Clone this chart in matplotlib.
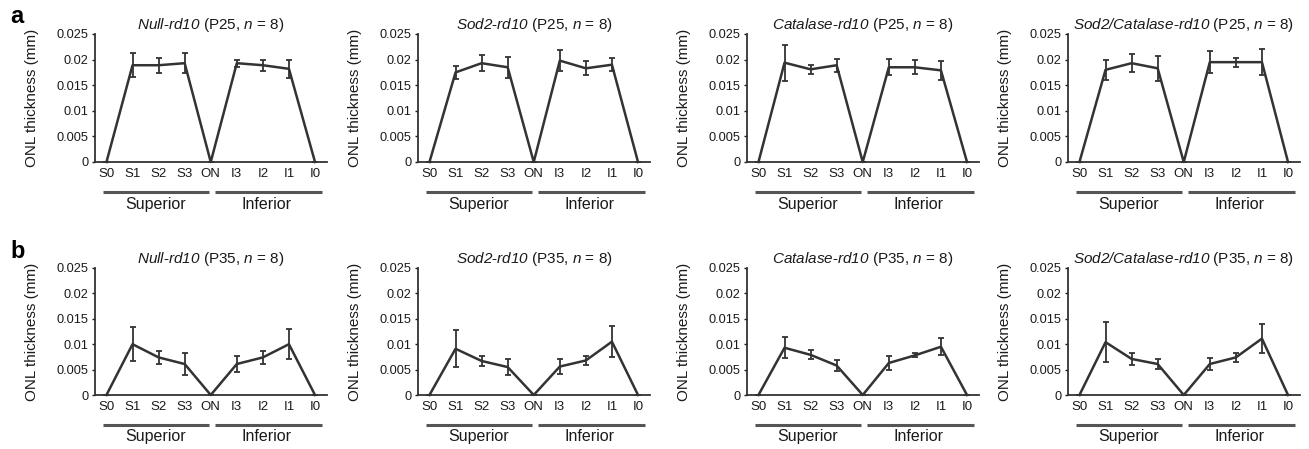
import numpy as np
import matplotlib.pyplot as plt
from matplotlib.transforms import blended_transform_factory

plt.rcParams['font.family'] = ['Liberation Sans', 'DejaVu Sans']
# everything inside $...$ is italic (gene names and n), the rest stays upright
plt.rcParams['mathtext.fontset'] = 'custom'
plt.rcParams['mathtext.rm'] = 'Liberation Sans:italic'
plt.rcParams['mathtext.it'] = 'Liberation Sans:italic'

# regions along the retina
positions = ['S0', 'S1', 'S2', 'S3', 'ON', 'I3', 'I2', 'I1', 'I0']
groups = ['Null-rd10', 'Sod2-rd10', 'Catalase-rd10', 'Sod2/Catalase-rd10']

# ONL thickness in mm, P25 (row a)
p25_mean = {
    'Null-rd10':          [0, 0.0189, 0.0189, 0.0193, 0, 0.0193, 0.0189, 0.0182, 0],
    'Sod2-rd10':          [0, 0.0175, 0.0193, 0.0185, 0, 0.0198, 0.0183, 0.0190, 0],
    'Catalase-rd10':      [0, 0.0194, 0.0181, 0.0189, 0, 0.0185, 0.0185, 0.0179, 0],
    'Sod2/Catalase-rd10': [0, 0.0180, 0.0193, 0.0183, 0, 0.0195, 0.0195, 0.0195, 0],
}
p25_err = {
    'Null-rd10':          [0, 0.0023, 0.0015, 0.0020, 0, 0.0007, 0.0011, 0.0017, 0],
    'Sod2-rd10':          [0, 0.0013, 0.0016, 0.0020, 0, 0.0021, 0.0014, 0.0013, 0],
    'Catalase-rd10':      [0, 0.0035, 0.0009, 0.0013, 0, 0.0016, 0.0014, 0.0018, 0],
    'Sod2/Catalase-rd10': [0, 0.0020, 0.0018, 0.0024, 0, 0.0022, 0.0009, 0.0025, 0],
}

# ONL thickness in mm, P35 (row b)
p35_mean = {
    'Null-rd10':          [0, 0.0100, 0.0074, 0.0061, 0, 0.0061, 0.0074, 0.0100, 0],
    'Sod2-rd10':          [0, 0.0091, 0.0067, 0.0055, 0, 0.0056, 0.0068, 0.0105, 0],
    'Catalase-rd10':      [0, 0.0093, 0.0079, 0.0058, 0, 0.0063, 0.0078, 0.0095, 0],
    'Sod2/Catalase-rd10': [0, 0.0104, 0.0071, 0.0061, 0, 0.0061, 0.0074, 0.0111, 0],
}
p35_err = {
    'Null-rd10':          [0, 0.0033, 0.0013, 0.0022, 0, 0.0015, 0.0013, 0.0030, 0],
    'Sod2-rd10':          [0, 0.0036, 0.0009, 0.0016, 0, 0.0015, 0.0008, 0.0031, 0],
    'Catalase-rd10':      [0, 0.0021, 0.0009, 0.0011, 0, 0.0013, 0.0004, 0.0017, 0],
    'Sod2/Catalase-rd10': [0, 0.0040, 0.0012, 0.0010, 0, 0.0011, 0.0009, 0.0028, 0],
}

rows = [('P25', p25_mean, p25_err), ('P35', p35_mean, p35_err)]
row_letters = ['a', 'b']

W, H = 1309, 449
fig = plt.figure(figsize=(W / 100, H / 100), dpi=100)

lefts = [95, 418, 747, 1068]
ax_w = 232
row_geom = [(34, 162), (268, 395)]   # (top px, bottom px)
line_col = '#333333'
txt_col = '#1a1a1a'
x = np.arange(len(positions))

for r, (age, means, errs) in enumerate(rows):
    top_px, bot_px = row_geom[r]
    for c, g in enumerate(groups):
        ax = fig.add_axes([lefts[c] / W, 1 - bot_px / H, ax_w / W, (bot_px - top_px) / H])
        ax.errorbar(x, means[g], yerr=errs[g], color=line_col, lw=1.8,
                    elinewidth=1.3, capsize=2.4, capthick=1.3, clip_on=False)
        ax.set_xlim(-0.44, 8.46)
        ax.set_ylim(0, 0.025)
        ax.set_yticks([0, 0.005, 0.01, 0.015, 0.02, 0.025])
        ax.set_yticklabels(['0', '0.005', '0.01', '0.015', '0.02', '0.025'])
        ax.set_xticks(x)
        ax.set_xticklabels(positions)
        ax.tick_params(axis='x', length=0, pad=4, labelsize=9.5, colors=txt_col)
        ax.tick_params(axis='y', length=2.5, width=1, pad=2, labelsize=9.2,
                       direction='out', colors=txt_col)
        for s in ['top', 'right']:
            ax.spines[s].set_visible(False)
        for s in ['left', 'bottom']:
            ax.spines[s].set_color(line_col)
            ax.spines[s].set_linewidth(1.3)
        ax.set_ylabel('ONL thickness (mm)', fontsize=11, color=txt_col)
        ax.yaxis.set_label_coords(-0.24, 0.5)
        name = g.rsplit('-', 1)
        ax.set_title(r'$%s$-$%s$ (%s, $n$ = 8)' % (name[0], name[1], age),
                     fontsize=11, pad=3, color=txt_col)

        # Superior / Inferior bars under the axis
        tr = blended_transform_factory(ax.transData, ax.transAxes)
        ax.plot([-0.12, 3.93], [-0.235, -0.235], transform=tr, color='#555555',
                lw=2.2, clip_on=False, solid_capstyle='butt')
        ax.plot([4.16, 8.28], [-0.235, -0.235], transform=tr, color='#555555',
                lw=2.2, clip_on=False, solid_capstyle='butt')
        ax.text(1.9, -0.27, 'Superior', transform=tr, ha='center', va='top',
                fontsize=11.5, color=txt_col)
        ax.text(6.15, -0.27, 'Inferior', transform=tr, ha='center', va='top',
                fontsize=11.5, color=txt_col)

    fig.text(10 / W, 1 - (23 if r == 0 else 258) / H, row_letters[r],
             fontsize=17, fontweight='bold', va='baseline', ha='left')

fig.savefig('out.png', dpi=100)
